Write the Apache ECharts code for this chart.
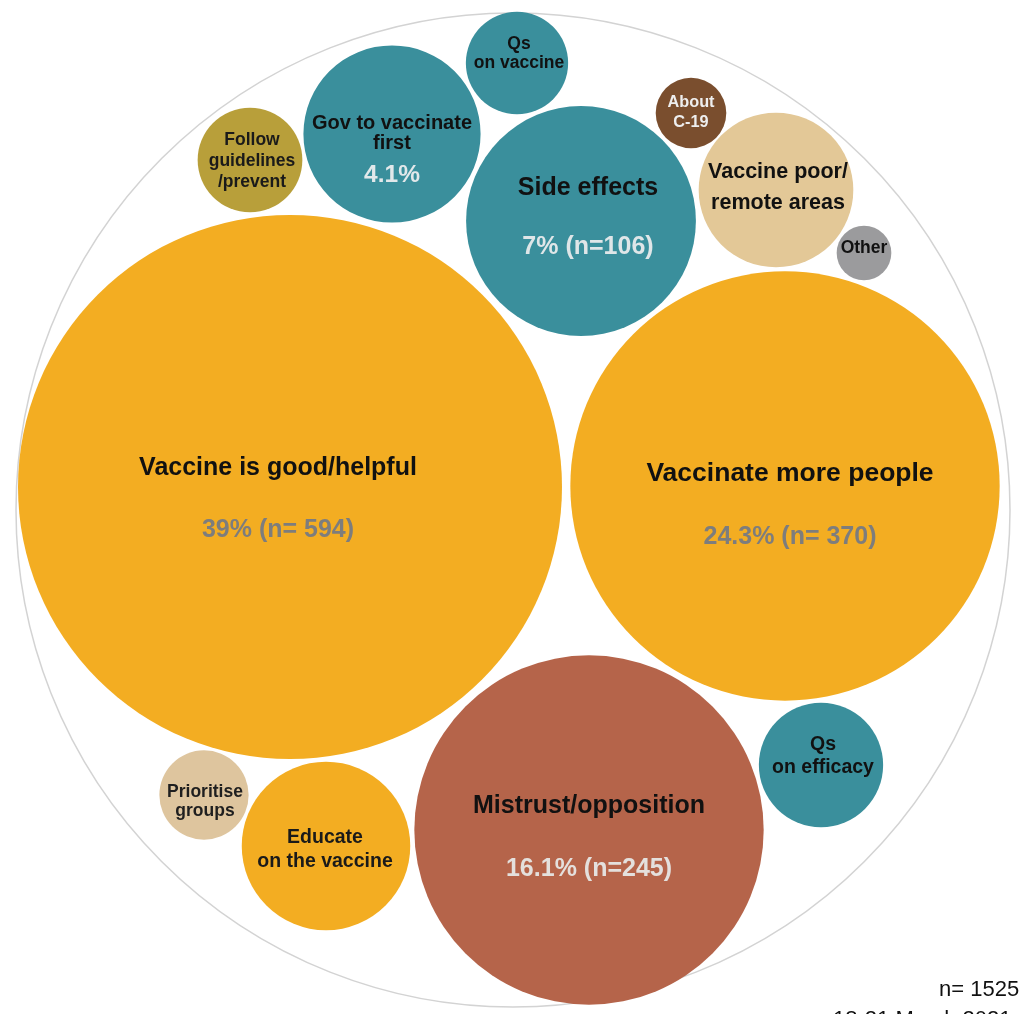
<!DOCTYPE html>
<html><head><meta charset="utf-8">
<script src="https://cdn.jsdelivr.net/npm/echarts@6/dist/echarts.min.js"></script>
<style>html,body{margin:0;padding:0;background:#fff;overflow:hidden}#c{width:1019px;height:1014px}</style>
</head><body><div id="c"></div>
<script>
// ---- data ----
const categories = ['Vaccine is good/helpful', 'Vaccinate more people', 'Mistrust/opposition', 'Side effects',
  'Gov to vaccinate first', 'Qs on vaccine', 'Follow guidelines /prevent', 'About C-19',
  'Vaccine poor/ remote areas', 'Other', 'Qs on efficacy', 'Educate on the vaccine', 'Prioritise groups'];
const labelLines = [['Vaccine is good/helpful'], ['Vaccinate more people'], ['Mistrust/opposition'], ['Side effects'],
  ['Gov to vaccinate', 'first'], ['Qs', 'on vaccine'], ['Follow', 'guidelines', '/prevent'], ['About', 'C-19'],
  ['Vaccine poor/', 'remote areas'], ['Other'], ['Qs', 'on efficacy'], ['Educate', 'on the vaccine'], ['Prioritise', 'groups']];
const counts = [594, 370, 245, 106, 63, 21, 22, 10, 48, 6, 31, 57, 16];
const shareLabels = ['39% (n= 594)', '24.3% (n= 370)', '16.1% (n=245)', '7% (n=106)', '4.1%', '', '', '', '', '', '', '', ''];
// packed-bubble layout (data space of hidden axes)
const packX = [290, 785, 589, 581, 392, 517, 250, 691, 776, 864, 821, 326, 204];
const packY = [487, 486, 830, 221, 134, 63, 160, 113, 190, 253, 765, 846, 795];
const outline = [[513, 510, 497]];
const sampleNote = ['n= 1525', '18-21 March 2021'];

// ---- styles ----
const FONT = '"Liberation Sans", Arial, sans-serif';
const K = 11.16; // radius per sqrt(count), area-proportional
const GOLD = '#F3AD22', TEAL = '#3A8F9C', RUST = '#B5644A', OLIVE = '#B89F3A', BROWN = '#7A4E2E',
  TAN = '#E3C897', GREY = '#9B9B9D', TAN2 = '#DEC59E';
const fills = [GOLD, GOLD, RUST, TEAL, TEAL, TEAL, OLIVE, BROWN, TAN, GREY, TEAL, GOLD, TAN2];
const lab = [
  {fs: 25, lh: 28, c: '#111', dx: -12, ty: -19, vfs: 25, vc: '#7d7d7d', vy: 43},
  {fs: 26.5, lh: 28, c: '#111', dx: 5, ty: -12, vfs: 25, vc: '#7d7d7d', vy: 51},
  {fs: 25, lh: 28, c: '#111', dx: 0, ty: -24, vfs: 25, vc: '#e4e0dd', vy: 39},
  {fs: 25, lh: 28, c: '#111', dx: 7, ty: -33, vfs: 25, vc: '#dfe6e8', vy: 26},
  {fs: 20, lh: 20, c: '#111', dx: 0, ty: -1, vfs: 24.5, vc: '#e2e8ea', vy: 41},
  {fs: 17.5, lh: 19, c: '#111', dx: 2, ty: -9.5},
  {fs: 17.5, lh: 21, c: '#1a1a1a', dx: 2, ty: 1},
  {fs: 16.3, lh: 20, c: '#eeeeee', dx: 0, ty: 0},
  {fs: 21.5, lh: 31, c: '#111', dx: 2, ty: -2.5},
  {fs: 17.5, lh: 18, c: '#111', dx: 0, ty: -5},
  {fs: 19.5, lh: 23, c: '#111', dx: 2, ty: -8.5},
  {fs: 19.5, lh: 24, c: '#1a1a1a', dx: -1, ty: 4},
  {fs: 17.5, lh: 19, c: '#1f1f1f', dx: 1, ty: 6.5}
];

const chart = echarts.init(document.getElementById('c'), null, {renderer: 'canvas'});
chart.setOption({
  animation: false,
  backgroundColor: '#fff',
  grid: {left: 0, top: 0, width: 1019, height: 1014},
  xAxis: {type: 'value', min: 0, max: 1019, show: false},
  yAxis: {type: 'value', min: 0, max: 1014, inverse: true, show: false},
  graphic: [
    {type: 'text', left: 939, top: 979, style: {text: sampleNote[0], font: '22px ' + FONT, fill: '#111'}},
    {type: 'text', left: 833, top: 1009, style: {text: sampleNote[1], font: '22px ' + FONT, fill: '#111'}}
  ],
  series: [
    {
      type: 'custom', name: 'outline', silent: true,
      data: outline,
      renderItem: function (params, api) {
        const c = api.coord([api.value(0), api.value(1)]);
        const r = api.size([api.value(2), api.value(2)])[0];
        return {type: 'circle', shape: {cx: c[0], cy: c[1], r: r},
          style: {fill: 'none', stroke: '#d3d3d3', lineWidth: 1.5}};
      }
    },
    {
      type: 'custom', name: 'topics',
      data: counts.map((n, i) => [packX[i], packY[i], n]),
      renderItem: function (params, api) {
        const i = params.dataIndex;
        const c = api.coord([api.value(0), api.value(1)]);
        const rd = K * Math.sqrt(api.value(2));
        const r = api.size([rd, rd])[0];
        const s = lab[i];
        const children = [
          {type: 'circle', shape: {cx: c[0], cy: c[1], r: r}, style: {fill: fills[i]}},
          {type: 'text', x: c[0] + s.dx, y: c[1] + s.ty,
            style: {text: labelLines[i].join('\n'), font: 'bold ' + s.fs + 'px ' + FONT, fill: s.c,
              align: 'center', verticalAlign: 'middle', lineHeight: s.lh}}
        ];
        if (shareLabels[i]) {
          children.push({type: 'text', x: c[0] + s.dx, y: c[1] + s.vy,
            style: {text: shareLabels[i], font: 'bold ' + s.vfs + 'px ' + FONT, fill: s.vc,
              align: 'center', verticalAlign: 'middle'}});
        }
        return {type: 'group', children: children};
      }
    }
  ]
});
</script>
</body></html>
